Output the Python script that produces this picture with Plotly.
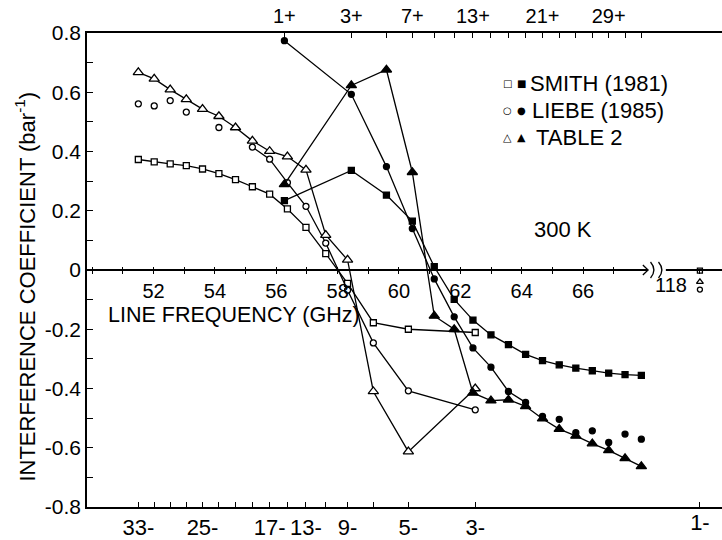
import plotly.graph_objects as go

# ---------------- data ----------------
# O2 line frequencies (GHz)
N_MINUS = [33, 31, 29, 27, 25, 23, 21, 19, 17, 15, 13, 11, 9, 7, 5, 3]
F_MINUS = [51.5034, 52.0214, 52.5424, 53.0669, 53.5957, 54.1300, 54.6711, 55.2214,
           55.7838, 56.3634, 56.9682, 57.6125, 58.3239, 59.1642, 60.3061, 62.4863]
N_PLUS = [1, 3, 5, 7, 9, 11, 13, 15, 17, 19, 21, 23, 25, 27, 29, 31, 33]
F_PLUS = [56.2648, 58.4466, 59.5910, 60.4348, 61.1506, 61.8002, 62.4112, 62.9980,
          63.5685, 64.1278, 64.6789, 65.2241, 65.7647, 66.3020, 66.8367, 67.3694, 67.9007]
F_1MINUS = 118.7503

# interference coefficients (bar^-1)
SMITH_MINUS = [0.373, 0.365, 0.358, 0.352, 0.341, 0.325, 0.305, 0.281,
               0.256, 0.206, 0.144, 0.055, -0.045, -0.178, -0.200, -0.211]
LIEBE_MINUS = [0.561, 0.554, 0.572, 0.533, None, 0.481, None, 0.415,
               0.374, 0.295, 0.215, 0.091, -0.068, -0.246, -0.408, -0.472]
TABLE2_MINUS = [0.667, 0.645, 0.609, 0.576, 0.543, 0.519, 0.481, 0.436,
                0.401, 0.383, 0.338, 0.118, 0.034, -0.410, -0.613, -0.400]

SMITH_PLUS = [0.234, 0.336, 0.253, 0.165, 0.011, -0.099, -0.169, -0.219, -0.252,
              -0.285, -0.306, -0.320, -0.331, -0.340, -0.348, -0.353, -0.356]
LIEBE_PLUS = [0.774, 0.593, 0.349, 0.140, -0.030, -0.158, -0.263, -0.328, -0.410,
              -0.447, -0.494, -0.504, -0.549, -0.543, -0.582, -0.554, -0.571]
TABLE2_PLUS = [0.289, 0.623, 0.676, 0.330, -0.155, -0.200, -0.415, -0.441, -0.438,
               -0.460, -0.502, -0.537, -0.560, -0.586, -0.609, -0.636, -0.663]

SMITH_118, TABLE2_118, LIEBE_118 = -0.002, -0.040, -0.066

LIEBE_MINUS_LINE_FROM = 19   # Liebe N- points joined from 19- on
LIEBE_PLUS_LINE_TO = 19      # Liebe N+ points joined up to 19+

BOTTOM_LABELED = [33, 25, 17, 13, 9, 5, 3]
TOP_LABELED = [1, 3, 7, 13, 21, 29]
FREQ_TICKS = list(range(50, 68))
FREQ_LABELED = [52, 54, 56, 58, 60, 62, 64, 66]
Y_TICKS = [round(-0.8 + 0.1 * i, 1) for i in range(17)]

# ---------------- layout constants ----------------
X_RANGE = [49.83, 70.53]
X_BREAK_DISPLAY = 69.81          # where the 118 GHz segment sits on the main scale
X5_RANGE = [F_1MINUS - (X_BREAK_DISPLAY - X_RANGE[0]),
            F_1MINUS + (X_RANGE[1] - X_BREAK_DISPLAY)]
ARROW_END = 68.12
BREAK_END = 68.70
FONT = "Liberation Sans"
BLACK = "black"
LW = 1.3
FS = 22

fig = go.Figure()


def marker(symbol, size, filled):
    return dict(symbol=symbol, size=size,
                color=BLACK if filled else "white",
                line=dict(color=BLACK, width=1.3))


# N- (open) series
fig.add_trace(go.Scatter(x=F_MINUS, y=SMITH_MINUS, mode="lines+markers",
                         line=dict(color=BLACK, width=LW),
                         marker=marker("square", 6, False)))
liebe_line = [v if n <= LIEBE_MINUS_LINE_FROM else None
              for n, v in zip(N_MINUS, LIEBE_MINUS)]
fig.add_trace(go.Scatter(x=F_MINUS, y=liebe_line, mode="lines",
                         line=dict(color=BLACK, width=LW), connectgaps=False))
fig.add_trace(go.Scatter(x=F_MINUS, y=LIEBE_MINUS, mode="markers",
                         marker=marker("circle", 6, False)))
fig.add_trace(go.Scatter(x=F_MINUS, y=TABLE2_MINUS, mode="lines+markers",
                         line=dict(color=BLACK, width=LW),
                         marker=marker("triangle-up", 9, False)))

# N+ (filled) series
fig.add_trace(go.Scatter(x=F_PLUS, y=SMITH_PLUS, mode="lines+markers",
                         line=dict(color=BLACK, width=LW),
                         marker=marker("square", 6, True)))
liebe_pline = [v if n <= LIEBE_PLUS_LINE_TO else None
               for n, v in zip(N_PLUS, LIEBE_PLUS)]
fig.add_trace(go.Scatter(x=F_PLUS, y=liebe_pline, mode="lines",
                         line=dict(color=BLACK, width=LW)))
fig.add_trace(go.Scatter(x=F_PLUS, y=LIEBE_PLUS, mode="markers",
                         marker=marker("circle", 6, True)))
fig.add_trace(go.Scatter(x=F_PLUS, y=TABLE2_PLUS, mode="lines+markers",
                         line=dict(color=BLACK, width=LW),
                         marker=marker("triangle-up", 9, True)))

# 118 GHz (1-) values on the broken-axis segment
fig.add_trace(go.Scatter(x=[F_1MINUS], y=[SMITH_118], xaxis="x5", mode="markers",
                         marker=marker("square", 5, False)))
fig.add_trace(go.Scatter(x=[F_1MINUS], y=[TABLE2_118], xaxis="x5", mode="markers",
                         marker=marker("triangle-up", 6, False)))
fig.add_trace(go.Scatter(x=[F_1MINUS], y=[LIEBE_118], xaxis="x5", mode="markers",
                         marker=marker("circle", 5, False)))

# dummy traces so the helper axes exist
for ax in ["x2", "x3", "x4", "x6"]:
    fig.add_trace(go.Scatter(x=[None], y=[None], xaxis=ax, mode="markers",
                             hoverinfo="skip"))

tickfont = dict(family=FONT, size=FS, color=BLACK)
zerofont = dict(family=FONT, size=20, color=BLACK)

fig.update_layout(
    width=722, height=540,
    margin=dict(l=87, r=0, t=33, b=21),
    paper_bgcolor="white", plot_bgcolor="white",
    showlegend=False,
    font=dict(family=FONT, color=BLACK),
    xaxis=dict(range=X_RANGE, side="bottom", showline=True, linecolor=BLACK,
               linewidth=1.5, showgrid=False, zeroline=False,
               ticks="inside", ticklen=5, tickwidth=1.2, tickcolor=BLACK,
               tickvals=F_MINUS,
               ticktext=[f"{n}-" if n in BOTTOM_LABELED else "" for n in N_MINUS],
               tickfont=tickfont),
    xaxis2=dict(range=X_RANGE, overlaying="x", side="top", anchor="y",
                showline=True, linecolor=BLACK, linewidth=1.5, showgrid=False,
                zeroline=False, ticks="inside", ticklen=5, tickwidth=1.2,
                tickcolor=BLACK, tickvals=F_PLUS,
                ticktext=[f"{n}+" if n in TOP_LABELED else "" for n in N_PLUS],
                tickfont=dict(family=FONT, size=20, color=BLACK)),
    xaxis3=dict(range=X_RANGE, overlaying="x", anchor="free", position=0.5,
                side="bottom", showline=True, linecolor=BLACK, linewidth=1.5,
                showgrid=False, zeroline=False, ticks="outside", ticklen=3,
                tickwidth=1.2, tickcolor=BLACK, tickvals=FREQ_TICKS,
                ticktext=[str(f) if f in FREQ_LABELED else "" for f in FREQ_TICKS],
                tickfont=zerofont),
    xaxis4=dict(range=X_RANGE, overlaying="x", anchor="free", position=0.5,
                side="bottom", showline=False, showgrid=False, zeroline=False,
                ticks="inside", ticklen=3, tickwidth=1.2, tickcolor=BLACK,
                tickvals=FREQ_TICKS, showticklabels=False),
    xaxis5=dict(range=X5_RANGE, overlaying="x", anchor="free", position=0.5,
                side="bottom", showline=False, showgrid=False, zeroline=False,
                ticks="outside", ticklen=3, tickwidth=1.2, tickcolor=BLACK,
                tickvals=[F_1MINUS], showticklabels=False),
    xaxis6=dict(range=X5_RANGE, overlaying="x", anchor="y", side="bottom",
                showline=False, showgrid=False, zeroline=False,
                ticks="inside", ticklen=5, tickwidth=1.2, tickcolor=BLACK,
                tickvals=[F_1MINUS], ticktext=["1-"], tickfont=tickfont),
    yaxis=dict(range=[-0.8, 0.8], showline=True, linecolor=BLACK, linewidth=1.5,
               showgrid=False, zeroline=False, ticks="inside", ticklen=6,
               tickwidth=1.2, tickcolor=BLACK, tickvals=Y_TICKS,
               ticktext=[("0" if abs(v) < 1e-9 else f"{v:.1f}")
                         if round(v * 10) % 2 == 0 else "" for v in Y_TICKS],
               tickfont=dict(family=FONT, size=21, color=BLACK)),
)

# axis break on the zero line
fig.add_shape(type="rect", xref="x", yref="y", x0=ARROW_END, x1=BREAK_END,
              y0=-0.012, y1=0.012, fillcolor="white", line=dict(width=0),
              layer="above")
fig.add_shape(type="path", xref="x", yref="y", layer="above",
              path=f"M {ARROW_END-0.17},0.017 L {ARROW_END},0 L {ARROW_END-0.17},-0.017",
              line=dict(color=BLACK, width=1.3))
for dx in (0.08, 0.34):
    x0 = ARROW_END + dx
    fig.add_shape(type="path", xref="x", yref="y", layer="above",
                  path=f"M {x0},0.027 Q {x0+0.22},0 {x0},-0.027",
                  line=dict(color=BLACK, width=1.3))

ann = []
def px_x(p):
    return (p - 87) / 635.0
def px_y(p):
    return (519 - p) / 486.0

ann.append(dict(text="118", xref="x5", yref="y", x=F_1MINUS, y=0,
                xanchor="right", yanchor="middle", xshift=-11, yshift=-15,
                showarrow=False, font=zerofont))
ann.append(dict(text="LINE FREQUENCY (GHz)", xref="paper", yref="paper",
                x=px_x(106), y=px_y(322), xanchor="left", yanchor="middle",
                showarrow=False, font=dict(family=FONT, size=21.5, color=BLACK)))
ann.append(dict(text="300 K", xref="paper", yref="paper",
                x=px_x(563), y=px_y(234), xanchor="center", yanchor="middle",
                showarrow=False, font=dict(family=FONT, size=FS, color=BLACK)))
ann.append(dict(text="INTERFERENCE COEFFICIENT (bar<sup>-1</sup>)",
                xref="paper", yref="paper", x=px_x(25), y=px_y(293),
                xanchor="center", yanchor="middle", textangle=-90,
                showarrow=False, font=dict(family=FONT, size=22, color=BLACK)))

legend_rows = [("SMITH (1981)", "□", "■", 85, 528, 10),
               ("LIEBE (1985)", "○", "●", 112, 530, 10),
               ("TABLE 2", "△", "▲", 140, 534, 11)]
for label, g_open, g_fill, yy, xt, gs in legend_rows:
    ann.append(dict(text=label, xref="paper", yref="paper", x=px_x(xt), y=px_y(yy),
                    xanchor="left", yanchor="middle", showarrow=False,
                    font=dict(family=FONT, size=FS, color=BLACK)))
    ann.append(dict(text=g_open, xref="paper", yref="paper", x=px_x(507), y=px_y(yy),
                    xanchor="center", yanchor="middle", showarrow=False,
                    font=dict(family="DejaVu Sans", size=gs, color=BLACK)))
    ann.append(dict(text=g_fill, xref="paper", yref="paper", x=px_x(521), y=px_y(yy),
                    xanchor="center", yanchor="middle", showarrow=False,
                    font=dict(family="DejaVu Sans", size=gs, color=BLACK)))

fig.update_layout(annotations=ann)
fig.write_html("out.html")
